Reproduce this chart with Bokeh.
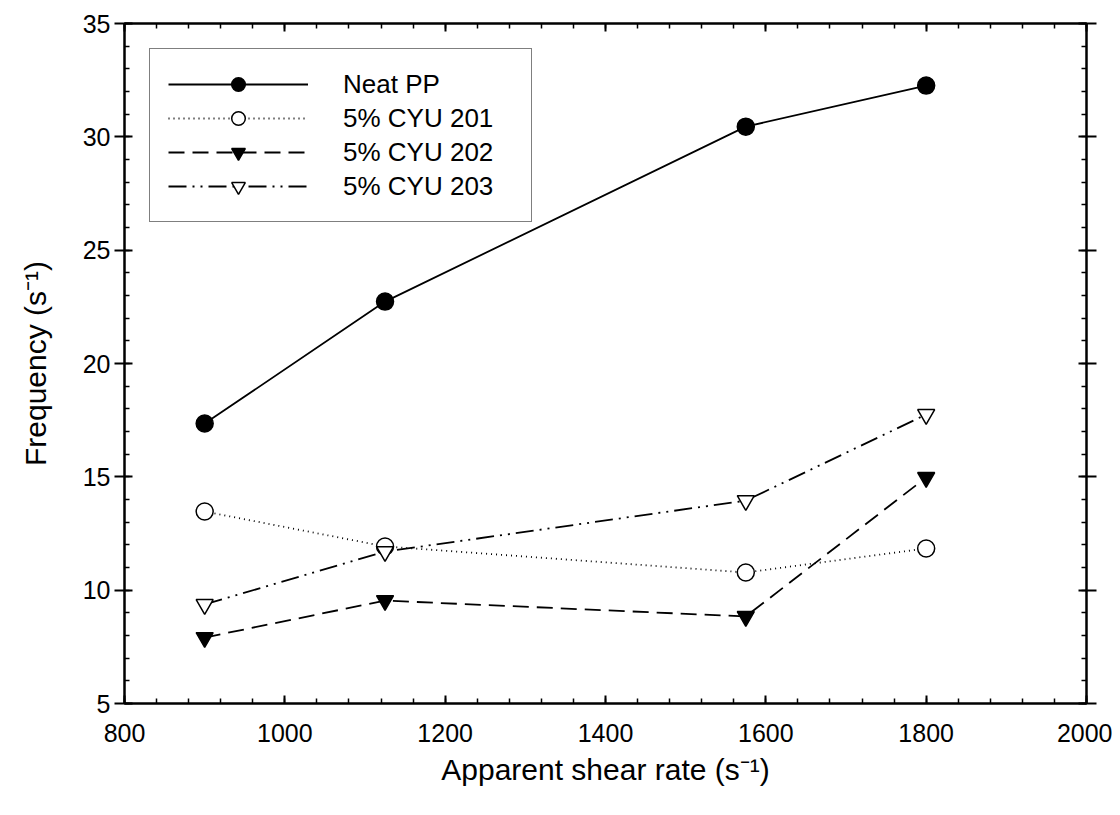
from bokeh.plotting import figure
from bokeh.models import LinearAxis, Range1d, Legend, LegendItem, FixedTicker
from bokeh.embed import file_html
from bokeh.resources import INLINE

shear_rate = [900, 1125, 1575, 1800]
neat_pp = [17.35, 22.73, 30.45, 32.26]
cyu201 = [13.47, 11.93, 10.78, 11.84]
cyu202 = [7.91, 9.54, 8.84, 14.97]
cyu203 = [9.37, 11.70, 13.95, 17.75]
series_names = ["Neat PP", "5% CYU 201", "5% CYU 202", "5% CYU 203"]
x_ticks = [800, 1000, 1200, 1400, 1600, 1800, 2000]
y_ticks = [5, 10, 15, 20, 25, 30, 35]

FONT = "Liberation Sans"

p = figure(frame_width=962, frame_height=680, output_backend="svg", toolbar_location=None,
           x_range=Range1d(800, 2000), y_range=Range1d(5, 35),
           min_border_left=124, min_border_top=23, min_border_right=26, min_border_bottom=100,
           x_axis_location=None, y_axis_location=None)
p.background_fill_color = "white"
p.border_fill_color = "white"
p.xgrid.visible = False
p.ygrid.visible = False
p.outline_line_color = "black"
p.outline_line_width = 2

def style(ax, ticks, minor, labels, tin, tout):
    ax.ticker = FixedTicker(ticks=ticks, minor_ticks=minor)
    ax.axis_line_color = "black"
    ax.axis_line_width = 2
    ax.major_tick_line_width = 2
    ax.minor_tick_line_width = 1.5
    ax.major_tick_in = tin
    ax.major_tick_out = tout
    ax.minor_tick_in = 5
    ax.minor_tick_out = 0
    if not labels:
        ax.major_label_text_font_size = "0px"
        ax.major_label_text_alpha = 0
    else:
        ax.major_label_text_font = FONT
        ax.major_label_text_font_size = "25px"
        ax.major_label_text_color = "black"

xminor = list(range(800, 2001, 40))
yminor = list(range(5, 36, 1))

bottom = LinearAxis()
top = LinearAxis()
left = LinearAxis()
right = LinearAxis()

style(bottom, x_ticks, xminor, True, 8, 0)
style(top, x_ticks, xminor, False, 8, 0)
style(left, y_ticks, yminor, True, 8, 10)
style(right, y_ticks, yminor, False, 8, 10)
bottom.major_label_standoff = 20
left.major_label_standoff = 4

bottom.axis_label = "Apparent shear rate (s\u207b\u00b9)"
left.axis_label = "Frequency (s\u207b\u00b9)"
for ax in (bottom, left):
    ax.axis_label_text_font = FONT
    ax.axis_label_text_font_size = "30px"
    ax.axis_label_text_font_style = "normal"
    ax.axis_label_text_color = "black"
bottom.axis_label_standoff = 8
left.axis_label_standoff = 28

p.add_layout(bottom, "below")
p.add_layout(top, "above")
p.add_layout(left, "left")
p.add_layout(right, "right")

lw = 1.8
series = [neat_pp, cyu201, cyu202, cyu203]
dashes = ["solid", "1 4", "16 8", "18 6 2 6 2 6"]
markers = ["circle", "circle", "inverted_triangle", "inverted_triangle"]
fills = ["black", "white", "black", "white"]
sizes = [17, 17, 17, 17]
items = []
for name, ys, dash, mk, fc, sz in zip(series_names, series, dashes, markers, fills, sizes):
    r1 = p.line(shear_rate, ys, line_color="black", line_width=lw, line_dash=dash)
    r2 = p.scatter(shear_rate, ys, marker=mk, size=sz, fill_color=fc, line_color="black", line_width=1.5)
    items.append(LegendItem(label=name, renderers=[r1, r2]))

legend = Legend(items=items, location="top_left")
legend.margin = 25
legend.padding = 18
legend.glyph_width = 140
legend.glyph_height = 34
legend.label_height = 34
legend.spacing = 0
legend.label_standoff = 35
legend.label_text_font = FONT
legend.label_text_font_size = "26px"
legend.label_text_color = "black"
legend.label_width = 170
legend.border_line_color = "black"
legend.border_line_width = 1.5
legend.background_fill_color = "white"
legend.background_fill_alpha = 1
p.add_layout(legend, "center")

open("out.html", "w").write(file_html(p, INLINE))
